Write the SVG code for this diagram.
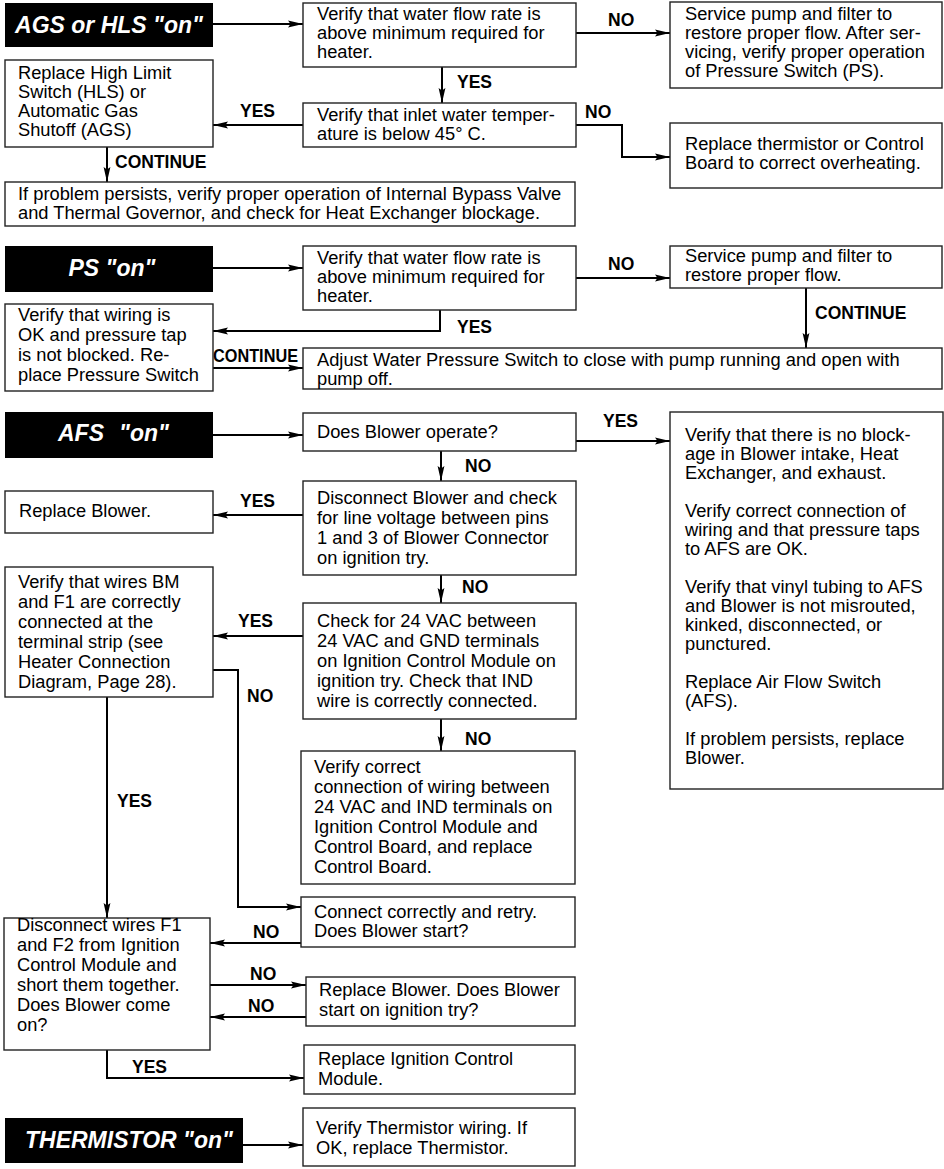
<svg xmlns="http://www.w3.org/2000/svg" width="944" height="1169" viewBox="0 0 944 1169">
<defs>
<marker id="ah" viewBox="0 0 15 8" markerWidth="15" markerHeight="8" refX="15" refY="4" orient="auto" markerUnits="userSpaceOnUse">
<path d="M0,0.6 L15,4 L0,7.4 L2.5,4 z" fill="#000"/>
</marker>
</defs>
<style>
.box{fill:#fff;stroke:#222;stroke-width:1.4}
.blk{fill:#000}
.t{font-family:"Liberation Sans",Arial,Helvetica,sans-serif;font-size:18.3px;fill:#000}
.bt{font-family:"Liberation Sans",Arial,Helvetica,sans-serif;font-size:23px;font-weight:bold;font-style:italic;fill:#fff}
.lbl{font-family:"Liberation Sans",Arial,Helvetica,sans-serif;font-size:17.5px;font-weight:bold;fill:#000}
.c{fill:none;stroke:#000;stroke-width:2}
.a{marker-end:url(#ah)}
</style>
<rect width="944" height="1169" fill="#fff"/>

<g id="connectors">
<path class="c a" d="M213,24 H303"/>
<path class="c a" d="M576,33 H670"/>
<path class="c a" d="M442,67 V103"/>
<path class="c a" d="M303,125 H213"/>
<path class="c a" d="M576,125 H622 V157 H670"/>
<path class="c a" d="M107,147 V182"/>
<path class="c a" d="M213,268 H303"/>
<path class="c a" d="M576,278 H670"/>
<path class="c a" d="M806,288 V348"/>
<path class="c a" d="M440,310 V331 H213"/>
<path class="c a" d="M213,368 H303"/>
<path class="c a" d="M213,435 H303"/>
<path class="c a" d="M576,441 H670"/>
<path class="c a" d="M441,451 V481"/>
<path class="c a" d="M303,515 H213"/>
<path class="c a" d="M441,575 V603"/>
<path class="c a" d="M303,636 H213"/>
<path class="c a" d="M213,670 H238 V907 H301"/>
<path class="c a" d="M107,697 V918"/>
<path class="c a" d="M441,719 V751"/>
<path class="c a" d="M301,943 H210"/>
<path class="c a" d="M210,985 H306"/>
<path class="c a" d="M306,1017 H210"/>
<path class="c a" d="M107,1050 V1078 H304"/>
<path class="c a" d="M243,1145 H303"/>
<text class="lbl" x="608" y="26">NO</text>
<text class="lbl" x="457" y="88">YES</text>
<text class="lbl" x="240" y="117">YES</text>
<text class="lbl" x="585" y="118">NO</text>
<text class="lbl" x="115" y="168">CONTINUE</text>
<text class="lbl" x="608" y="270">NO</text>
<text class="lbl" x="815" y="319">CONTINUE</text>
<text class="lbl" x="457" y="333">YES</text>
<text class="lbl" x="213" y="362" textLength="85" lengthAdjust="spacingAndGlyphs">CONTINUE</text>
<text class="lbl" x="603" y="427">YES</text>
<text class="lbl" x="465" y="472">NO</text>
<text class="lbl" x="240" y="507">YES</text>
<text class="lbl" x="462" y="593">NO</text>
<text class="lbl" x="238" y="627">YES</text>
<text class="lbl" x="247" y="702">NO</text>
<text class="lbl" x="465" y="745">NO</text>
<text class="lbl" x="117" y="807">YES</text>
<text class="lbl" x="253" y="938">NO</text>
<text class="lbl" x="250" y="980">NO</text>
<text class="lbl" x="248" y="1012">NO</text>
<text class="lbl" x="132" y="1073">YES</text>
</g>

<g id="B1"><rect class="blk" x="5" y="3" width="208" height="44"/><text class="bt" x="109" y="33" text-anchor="middle">AGS or HLS "on"</text></g>
<g id="A1"><rect class="box" x="303" y="3" width="273" height="64"/><text class="t"><tspan x="317" y="20">Verify that water flow rate is</tspan><tspan x="317" y="39">above minimum required for</tspan><tspan x="317" y="58">heater.</tspan></text></g>
<g id="A2"><rect class="box" x="670" y="2" width="272" height="86"/><text class="t"><tspan x="685" y="20">Service pump and filter to</tspan><tspan x="685" y="39">restore proper flow. After ser-</tspan><tspan x="685" y="58">vicing, verify proper operation</tspan><tspan x="685" y="77">of Pressure Switch (PS).</tspan></text></g>
<g id="A3"><rect class="box" x="303" y="103" width="273" height="44"/><text class="t"><tspan x="317" y="121">Verify that inlet water temper-</tspan><tspan x="317" y="140">ature is below 45° C.</tspan></text></g>
<g id="A4"><rect class="box" x="5" y="60" width="208" height="87"/><text class="t"><tspan x="18" y="79">Replace High Limit</tspan><tspan x="18" y="98">Switch (HLS) or</tspan><tspan x="18" y="117">Automatic Gas</tspan><tspan x="18" y="136">Shutoff (AGS)</tspan></text></g>
<g id="A5"><rect class="box" x="670" y="123" width="272" height="65"/><text class="t"><tspan x="685" y="150">Replace thermistor or Control</tspan><tspan x="685" y="169">Board to correct overheating.</tspan></text></g>
<g id="A6"><rect class="box" x="5" y="182" width="570" height="44"/><text class="t"><tspan x="18" y="200">If problem persists, verify proper operation of Internal Bypass Valve</tspan><tspan x="18" y="219">and Thermal Governor, and check for Heat Exchanger blockage.</tspan></text></g>

<g id="B2"><rect class="blk" x="5" y="246" width="208" height="46"/><text class="bt" x="112" y="276" text-anchor="middle">PS "on"</text></g>
<g id="A7"><rect class="box" x="303" y="246" width="273" height="64"/><text class="t"><tspan x="317" y="264">Verify that water flow rate is</tspan><tspan x="317" y="283">above minimum required for</tspan><tspan x="317" y="302">heater.</tspan></text></g>
<g id="A8"><rect class="box" x="670" y="246" width="272" height="42"/><text class="t"><tspan x="685" y="262">Service pump and filter to</tspan><tspan x="685" y="281">restore proper flow.</tspan></text></g>
<g id="A9"><rect class="box" x="5" y="304" width="208" height="87"/><text class="t"><tspan x="18" y="321">Verify that wiring is</tspan><tspan x="18" y="341">OK and pressure tap</tspan><tspan x="18" y="361">is not blocked. Re-</tspan><tspan x="18" y="381">place Pressure Switch</tspan></text></g>
<g id="A10"><rect class="box" x="303" y="348" width="639" height="41"/><text class="t"><tspan x="317" y="366">Adjust Water Pressure Switch to close with pump running and open with</tspan><tspan x="317" y="385">pump off.</tspan></text></g>

<g id="B3"><rect class="blk" x="5" y="412" width="208" height="46"/><text class="bt" y="441"><tspan x="58">AFS</tspan><tspan x="119">"on"</tspan></text></g>
<g id="A11"><rect class="box" x="303" y="413" width="273" height="38"/><text class="t" x="317" y="438">Does Blower operate?</text></g>
<g id="A12"><rect class="box" x="670" y="412" width="273" height="377"/><text class="t"><tspan x="685" y="441">Verify that there is no block-</tspan><tspan x="685" y="460">age in Blower intake, Heat</tspan><tspan x="685" y="479">Exchanger, and exhaust.</tspan><tspan x="685" y="517">Verify correct connection of</tspan><tspan x="685" y="536">wiring and that pressure taps</tspan><tspan x="685" y="555">to AFS are OK.</tspan><tspan x="685" y="593">Verify that vinyl tubing to AFS</tspan><tspan x="685" y="612">and Blower is not misrouted,</tspan><tspan x="685" y="631">kinked, disconnected, or</tspan><tspan x="685" y="650">punctured.</tspan><tspan x="685" y="688">Replace Air Flow Switch</tspan><tspan x="685" y="707">(AFS).</tspan><tspan x="685" y="745">If problem persists, replace</tspan><tspan x="685" y="764">Blower.</tspan></text></g>
<g id="A13"><rect class="box" x="303" y="481" width="273" height="94"/><text class="t"><tspan x="317" y="504">Disconnect Blower and check</tspan><tspan x="317" y="524">for line voltage between pins</tspan><tspan x="317" y="544">1 and 3 of Blower Connector</tspan><tspan x="317" y="564">on ignition try.</tspan></text></g>
<g id="A14"><rect class="box" x="5" y="491" width="208" height="42"/><text class="t" x="19" y="517">Replace Blower.</text></g>
<g id="A15"><rect class="box" x="303" y="603" width="273" height="116"/><text class="t"><tspan x="317" y="627">Check for 24 VAC between</tspan><tspan x="317" y="647">24 VAC and GND terminals</tspan><tspan x="317" y="667">on Ignition Control Module on</tspan><tspan x="317" y="687">ignition try. Check that IND</tspan><tspan x="317" y="707">wire is correctly connected.</tspan></text></g>
<g id="A16"><rect class="box" x="5" y="567" width="208" height="130"/><text class="t"><tspan x="18" y="588">Verify that wires BM</tspan><tspan x="18" y="608">and F1 are correctly</tspan><tspan x="18" y="628">connected at the</tspan><tspan x="18" y="648">terminal strip (see</tspan><tspan x="18" y="668">Heater Connection</tspan><tspan x="18" y="688">Diagram, Page 28).</tspan></text></g>
<g id="A17"><rect class="box" x="301" y="751" width="274" height="133"/><text class="t"><tspan x="314" y="773">Verify correct</tspan><tspan x="314" y="793">connection of wiring between</tspan><tspan x="314" y="813">24 VAC and IND terminals on</tspan><tspan x="314" y="833">Ignition Control Module and</tspan><tspan x="314" y="853">Control Board, and replace</tspan><tspan x="314" y="873">Control Board.</tspan></text></g>
<g id="A18"><rect class="box" x="301" y="897" width="274" height="50"/><text class="t"><tspan x="314" y="918">Connect correctly and retry.</tspan><tspan x="314" y="937">Does Blower start?</tspan></text></g>
<g id="A19"><rect class="box" x="4" y="918" width="206" height="132"/><text class="t"><tspan x="17" y="931">Disconnect wires F1</tspan><tspan x="17" y="951">and F2 from Ignition</tspan><tspan x="17" y="971">Control Module and</tspan><tspan x="17" y="991">short them together.</tspan><tspan x="17" y="1011">Does Blower come</tspan><tspan x="17" y="1031">on?</tspan></text></g>
<g id="A20"><rect class="box" x="306" y="977" width="269" height="49"/><text class="t"><tspan x="319" y="996">Replace Blower. Does Blower</tspan><tspan x="319" y="1016">start on ignition try?</tspan></text></g>
<g id="A21"><rect class="box" x="304" y="1045" width="271" height="49"/><text class="t"><tspan x="318" y="1065">Replace Ignition Control</tspan><tspan x="318" y="1085">Module.</tspan></text></g>
<g id="B4"><rect class="blk" x="5" y="1118" width="238" height="45"/><text class="bt" x="25" y="1148">THERMISTOR "on"</text></g>
<g id="A22"><rect class="box" x="303" y="1108" width="272" height="58"/><text class="t"><tspan x="316" y="1134">Verify Thermistor wiring. If</tspan><tspan x="316" y="1154">OK, replace Thermistor.</tspan></text></g>
</svg>
